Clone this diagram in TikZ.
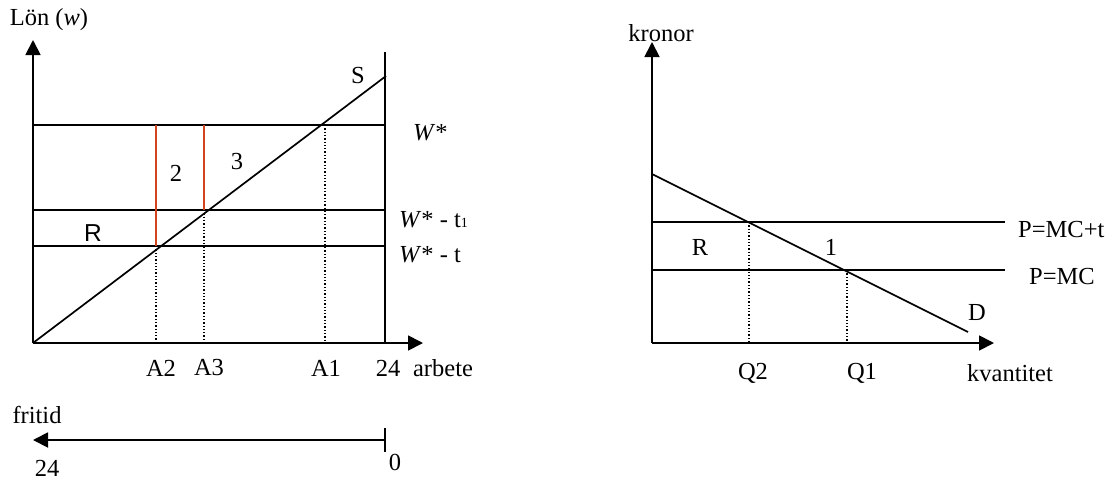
\documentclass[tikz,border=0pt]{standalone}
\usepackage{fontspec}
\setmainfont{Liberation Serif}
\newfontfamily\arialfont{Liberation Sans}
\usetikzlibrary{arrows.meta}
\definecolor{redline}{HTML}{D0451B}
\begin{document}
\begin{tikzpicture}[x=1pt,y=-1pt,
  every node/.style={inner sep=0pt,font=\fontsize{24.5}{28}\selectfont},
  axis/.style={line width=1.8pt,-{Triangle[length=15pt,width=15pt]}},
  curve/.style={line width=1.7pt},
  guide/.style={line width=1.3pt,dotted},
  redl/.style={line width=1.8pt,draw=redline},
  lbl/.style={anchor=west}]
\useasboundingbox (0,0) rectangle (1110,480);
% ---------- left graph ----------
\coordinate (O) at (33,343);
\coordinate (Ytop) at (33,40);
\coordinate (Xend) at (423,343);
\coordinate (R24b) at (385,343);
\coordinate (R24t) at (385,52);
\coordinate (Send) at (386,76);
\coordinate (Wl) at (33,125);   \coordinate (Wr) at (385,125);
\coordinate (W1l) at (33,210);  \coordinate (W1r) at (385,210);
\coordinate (W2l) at (33,246);  \coordinate (W2r) at (385,246);
\coordinate (A2t) at (156,125); \coordinate (A2m) at (156,246); \coordinate (A2b) at (156,343);
\coordinate (A3t) at (204,125); \coordinate (A3m) at (204,210); \coordinate (A3b) at (204,343);
\coordinate (A1t) at (325,125); \coordinate (A1b) at (325,343);
\draw[axis] (O) -- (Ytop);
\draw[axis] (O) -- (Xend);
\draw[curve] (R24b) -- (R24t);
\draw[curve] (O) -- (Send);
\draw[curve] (Wl) -- (Wr);
\draw[curve] (W1l) -- (W1r);
\draw[curve] (W2l) -- (W2r);
\draw[guide] (A2m) -- (A2b);
\draw[guide] (A3m) -- (A3b);
\draw[guide] (A1t) -- (A1b);
\draw[redl] (A2t) -- (A2m);
\draw[redl] (A3t) -- (A3m);
\node (lon) at (49,20) {Lön (\textit{w})};
\node (S) at (358,76) {S};
\node[lbl] (ws) at (413,133) {\textit{W}*};
\node[lbl] (ws1) at (399,220) {\textit{W}* - t{\fontsize{14}{14}\selectfont 1}};
\node[lbl] (ws2) at (399,255) {\textit{W}* - t};
\node (Rl) at (93,233) {\arialfont R};
\node (two) at (176,173) {2};
\node (three) at (237,162) {3};
\node (A2) at (161,368) {A2};
\node (A3) at (209,368) {A3};
\node (A1) at (326,368) {A1};
\node (t24) at (388,368) {24};
\node (arb) at (443,368) {arbete};
% fritid axis
\node (frit) at (37,415) {fritid};
\coordinate (Fr) at (385,440);
\coordinate (Fl) at (33,440);
\coordinate (Tt) at (385,428);
\coordinate (Tb) at (385,452);
\draw[axis] (Fr) -- (Fl);
\draw[curve] (Tt) -- (Tb);
\node (f24) at (47,468) {24};
\node (f0) at (395,462) {0};
% ---------- right graph ----------
\coordinate (O2) at (652,343);
\coordinate (Y2) at (652,42);
\coordinate (X2) at (994,343);
\coordinate (Dl) at (652,174);
\coordinate (Dr) at (968,332);
\coordinate (Pt1) at (652,222); \coordinate (Pt2) at (1005,222);
\coordinate (P1) at (652,270);  \coordinate (P2) at (1005,270);
\coordinate (Q2t) at (749,222); \coordinate (Q2b) at (749,343);
\coordinate (Q1t) at (847,270); \coordinate (Q1b) at (847,343);
\draw[axis] (O2) -- (Y2);
\draw[axis] (O2) -- (X2);
\draw[curve] (Dl) -- (Dr);
\draw[curve] (Pt1) -- (Pt2);
\draw[curve] (P1) -- (P2);
\draw[guide] (Q2t) -- (Q2b);
\draw[guide] (Q1t) -- (Q1b);
\node (kron) at (661,33) {kronor};
\node (R2) at (700,247) {R};
\node (one) at (831,247) {1};
\node[lbl] (pmct) at (1018,230) {P=MC+t};
\node[lbl] (pmc) at (1029,277) {P=MC};
\node (D) at (977,312) {D};
\node (Q2) at (753,373) {Q2};
\node (Q1) at (862,373) {Q1};
\node (kv) at (1010,373) {kvantitet};
\end{tikzpicture}
\end{document}
